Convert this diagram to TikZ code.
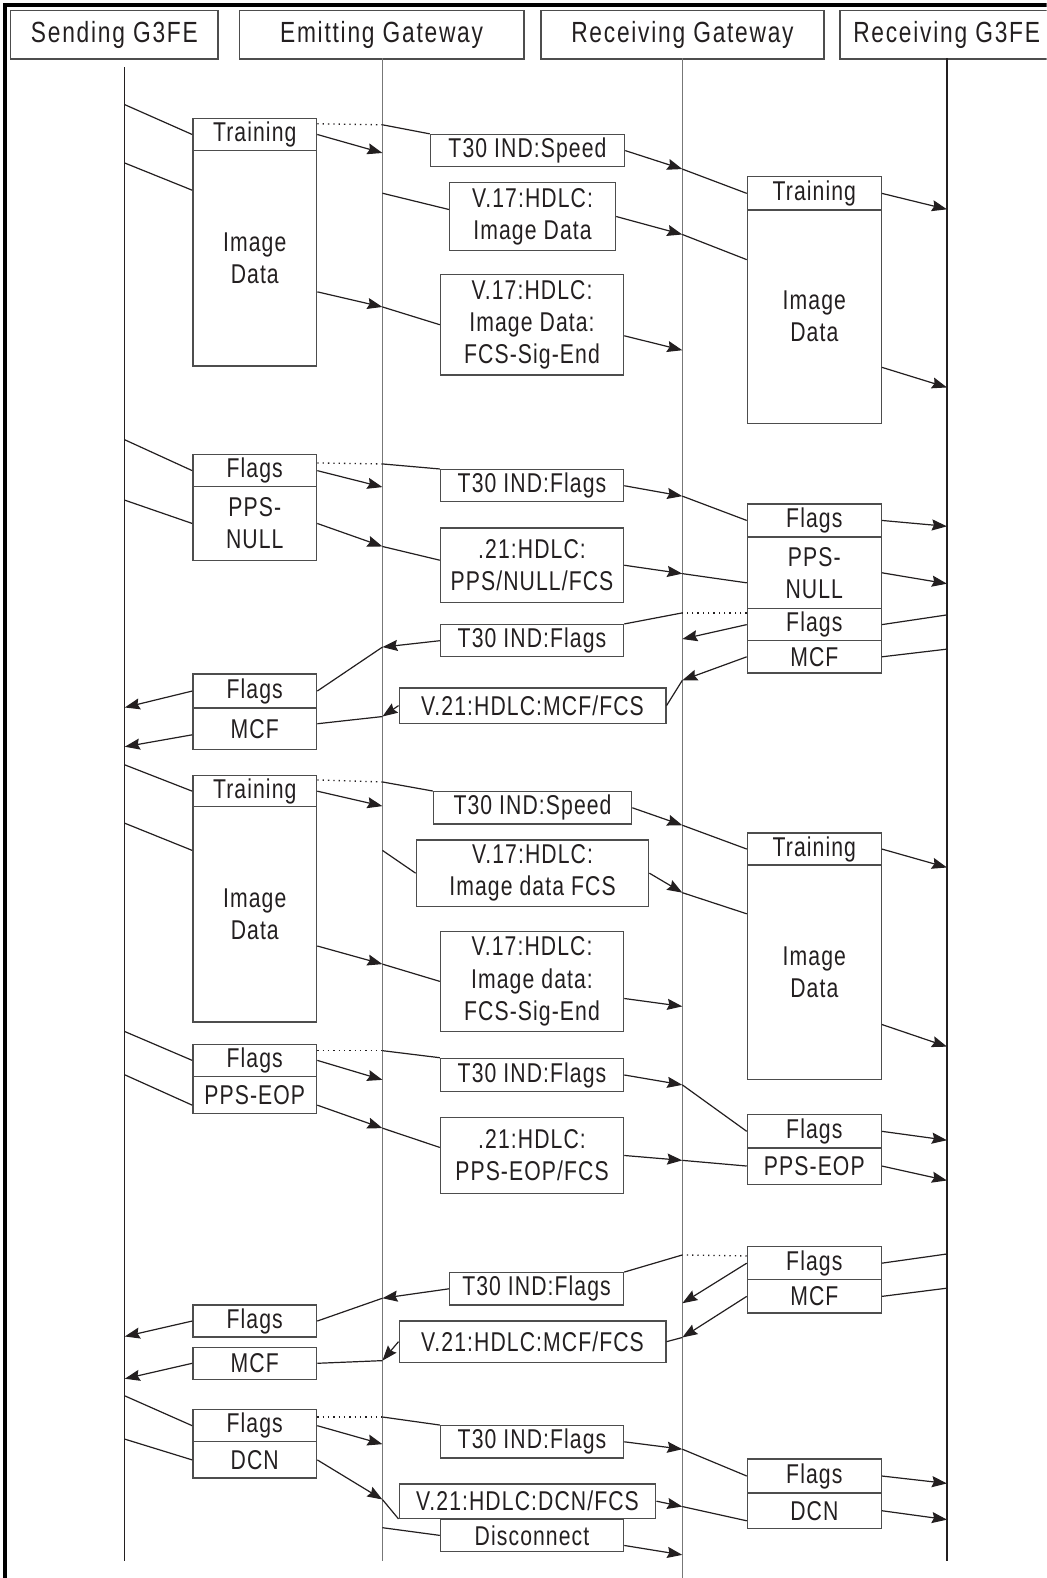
\documentclass[tikz,border=0pt]{standalone}
\usepackage{fontspec}
\setmainfont{Liberation Sans}[FakeStretch=0.78,LetterSpace=4]
\usetikzlibrary{arrows.meta}
\definecolor{ink}{HTML}{231F20}
\definecolor{frm}{HTML}{4D4D4D}
\definecolor{life}{HTML}{777777}
\begin{document}
\begin{tikzpicture}[x=1pt,y=-1pt,font=\fontsize{27}{32}\selectfont,
  box/.style={draw=frm,line width=1.3pt,inner sep=0pt,anchor=north west,align=center,text=ink},
  head/.style={box,font=\fontsize{29}{32}\selectfont\addfontfeatures{LetterSpace=6}},
  ln/.style={ink,line width=1.2pt},
  ar/.style={ln,-{Stealth[length=15pt,width=11pt,inset=2pt]}},
  dotln/.style={ink,line width=1.3pt,dash pattern=on 1.3pt off 4pt}]
\newcommand{\pkt}[6]{\node[box,minimum width=#4,minimum height=#5] (#1) at (#2,#3) {#6};}
\useasboundingbox (0,0) rectangle (1040,1568);\clip (0,0) rectangle (1040,1568);
\draw[black,line width=4pt] (5,1568)--(5,5)--(1040,5);
\foreach \n/\x/\w/\t in {hs/10/206/Sending G3FE,he/237/283/Emitting Gateway,hr/537/281/Receiving Gateway,hg/834/212/Receiving G3FE}{\node[head,minimum width=\w,minimum height=48] (\n) at (\x,10) {\t};}
\foreach \l/\x/\t/\b/\c in {ls/124/67/1551/ink,le/380/58/1551/life,lr/678/58/1568/life,lg/941/58/1551/ink}{\coordinate (\l0) at (\x,\t);\coordinate (\l1) at (\x,\b);\draw[\c,line width=1.2pt] (\l0)--(\l1);}
\foreach \n/\y in {1/104,2/162,3/437,4/497,5/703,6/742,7/760,8/818,9/1025,10/1068,11/1328,12/1370,13/1387,14/1430}{\coordinate (s\n) at (124,\y);}
\foreach \n/\y in {1/124,2/152,3/192,4/305,5/461,6/484,7/543,8/643,9/712,10/777,11/801,12/845,13/958,14/1044,15/1073,16/1121,17/1290,18/1352,19/1408,20/1435,21/1490,22/1518}{\coordinate (e\n) at (380,\y);}
\foreach \n/\y in {1/168,2/233,3/348,4/493,5/570,6/609,7/635,8/676,9/820,10/887,11/1000,12/1078,13/1153,14/1247,15/1295,16/1329,17/1440,18/1497,19/1545}{\coordinate (r\n) at (678,\y);}
\foreach \n/\y in {1/208,2/385,3/523,4/580,5/611,6/645,7/862,8/1040,9/1133,10/1173,11/1246,12/1280,13/1474,14/1510}{\coordinate (g\n) at (941,\y);}
\pkt{tr1}{191}{117}{123}{32}{Training}\pkt{im1}{191}{149}{123}{214}{Image\\Data}\pkt{sp1}{427}{133}{193}{32}{T30 IND:Speed}\pkt{hd1}{446}{181}{165}{67}{V.17:HDLC:\\Image Data}\pkt{fe1}{437}{272}{182}{100}{V.17:HDLC:\\Image Data:\\FCS-Sig-End}\pkt{rtr1}{742}{175}{133}{33}{Training}\pkt{rim1}{742}{208}{133}{212}{Image\\Data}
\path[ln] (s1) edge (tr1.west) (s2) edge ([yshift=-40pt]im1.north west) (e1) edge (sp1.north west) (e3) edge ([yshift=7pt]hd1.west) (e4) edge (fe1.west) (r1) edge (rtr1.west) (r2) edge ([yshift=-50pt]rim1.north west);
\draw[dotln] ([yshift=-6pt]tr1.north east)--(e1);
\path[ar] (tr1.east) edge (e2) ([yshift=-141pt]im1.north east) edge (e4) (sp1.east) edge (r1) (hd1.east) edge (r2) ([yshift=-11pt]fe1.east) edge (r3) (rtr1.east) edge (g1) ([yshift=-157pt]rim1.north east) edge (g2);
\pkt{fl2}{191}{451}{123}{32}{Flags}\pkt{pn2}{191}{483}{123}{73}{PPS-\\NULL}\pkt{tf2}{437}{466}{182}{32}{T30 IND:Flags}\pkt{hp2}{437}{524}{182}{74}{.21:HDLC:\\PPS/NULL/FCS}\pkt{rfl2}{742}{500}{133}{33}{Flags}\pkt{rpn2}{742}{533}{133}{71}{PPS-\\NULL}
\path[ln] (s3) edge (fl2.west) (s4) edge (pn2.west) (e5) edge (tf2.north west) (e7) edge ([yshift=5pt]hp2.west) (r4) edge (rfl2.west) (r5) edge ([yshift=-10pt]rpn2.west);
\draw[dotln] ([yshift=-9pt]fl2.north east)--(e5);
\path[ar] (fl2.east) edge (e6) (pn2.east) edge (e7) (tf2.east) edge (r4) (hp2.east) edge (r5) (rfl2.east) edge (g3) (rpn2.east) edge (g4);
\pkt{rfl3}{742}{604}{133}{32}{Flags}\pkt{rmc3}{742}{636}{133}{32}{MCF}\pkt{tf3}{437}{620}{182}{32}{T30 IND:Flags}\pkt{hm3}{396}{683}{265}{35}{V.21:HDLC:MCF/FCS}\pkt{fl3}{191}{669}{123}{34}{Flags}\pkt{mc3}{191}{703}{123}{41}{MCF}
\path[ln] (g5) edge (rfl3.east) (g6) edge (rmc3.east) (r6) edge (tf3.north east) (r8) edge (hm3.east) (e8) edge (fl3.east) (e9) edge ([yshift=5pt]mc3.east);
\draw[dotln] ([yshift=-5pt]rfl3.north west)--(r6);
\path[ar] (rfl3.west) edge (r7) (rmc3.west) edge (r8) (tf3.west) edge (e8) (hm3.west) edge (e9) (fl3.west) edge (s5) ([yshift=-6pt]mc3.west) edge (s6);
\pkt{tr4}{191}{770}{123}{31}{Training}\pkt{im4}{191}{801}{123}{214}{Image\\Data}\pkt{sp4}{430}{786}{197}{32}{T30 IND:Speed}\pkt{hd4}{413}{834}{231}{66}{V.17:HDLC:\\Image data FCS}\pkt{fe4}{437}{925}{182}{99}{V.17:HDLC:\\Image data:\\FCS-Sig-End}\pkt{rtr4}{742}{827}{133}{32}{Training}\pkt{rim4}{742}{859}{133}{213}{Image\\Data}
\path[ln] (s7) edge (tr4.west) (s8) edge ([yshift=-44pt]im4.north west) (e10) edge (sp4.north west) (e12) edge (hd4.west) (e13) edge (fe4.west) (r9) edge (rtr4.west) (r10) edge ([yshift=-49pt]rim4.north west);
\draw[dotln] ([yshift=-5pt]tr4.north east)--(e10);
\path[ar] (tr4.east) edge (e11) ([yshift=-139pt]im4.north east) edge (e13) (sp4.east) edge (r9) (hd4.east) edge (r10) ([yshift=-17pt]fe4.east) edge (r11) (rtr4.east) edge (g7) ([yshift=-159pt]rim4.north east) edge (g8);
\pkt{fl5}{191}{1037}{123}{32}{Flags}\pkt{pe5}{191}{1069}{123}{37}{PPS-EOP}\pkt{tf5}{437}{1051}{182}{33}{T30 IND:Flags}\pkt{hp5}{437}{1110}{182}{75}{.21:HDLC:\\PPS-EOP/FCS}\pkt{rfl5}{742}{1107}{133}{33}{Flags}\pkt{rpe5}{742}{1140}{133}{36}{PPS-EOP}
\path[ln] (s9) edge (fl5.west) (s10) edge ([yshift=-10pt]pe5.west) (e14) edge (tf5.north west) (e16) edge ([yshift=8pt]hp5.west) (r12) edge (rfl5.west) (r13) edge (rpe5.west);
\draw[dotln] ([yshift=-7pt]fl5.north east)--(e14);
\path[ar] (fl5.east) edge (e15) ([yshift=-10pt]pe5.east) edge (e16) (tf5.east) edge (r12) (hp5.east) edge (r13) (rfl5.east) edge (g9) (rpe5.east) edge (g10);
\pkt{rfl6}{742}{1238}{133}{33}{Flags}\pkt{rmc6}{742}{1271}{133}{33}{MCF}\pkt{tf6}{446}{1264}{173}{32}{T30 IND:Flags}\pkt{hm6}{396}{1312}{265}{41}{V.21:HDLC:MCF/FCS}\pkt{fl6}{191}{1296}{123}{32}{Flags}\pkt{mc6}{191}{1338}{123}{32}{MCF}
\path[ln] (g11) edge (rfl6.east) (g12) edge (rmc6.east) (r14) edge (tf6.north east) (r16) edge (hm6.east) (e17) edge (fl6.east) (e18) edge (mc6.east);
\draw[dotln] ([yshift=-10pt]rfl6.north west)--(r14);
\path[ar] (rfl6.west) edge (r15) (rmc6.west) edge (r16) (tf6.west) edge (e17) (hm6.west) edge (e18) (fl6.west) edge (s11) (mc6.west) edge (s12);
\pkt{fl7}{191}{1400}{123}{32}{Flags}\pkt{dc7}{191}{1432}{123}{36}{DCN}\pkt{tf7}{437}{1416}{182}{32}{T30 IND:Flags}\pkt{hn7}{396}{1474}{255}{34}{V.21:HDLC:DCN/FCS}\pkt{di7}{437}{1509}{182}{32}{Disconnect}\pkt{rfl7}{742}{1449}{133}{34}{Flags}\pkt{rdc7}{742}{1483}{133}{35}{DCN}
\path[ln] (s13) edge (fl7.west) (s14) edge (dc7.west) (e19) edge (tf7.north west) (e21) edge (hn7.south west) (e22) edge (di7.west) (r17) edge (rfl7.west) (r18) edge ([yshift=-10pt]rdc7.west);
\draw[dotln] ([yshift=-8pt]fl7.north east)--(e19);
\path[ar] (fl7.east) edge (e20) (dc7.east) edge (e21) (tf7.east) edge (r17) (hn7.east) edge (r18) ([yshift=-10pt]di7.east) edge (r19) (rfl7.east) edge (g13) (rdc7.east) edge (g14);
\end{tikzpicture}
\end{document}
